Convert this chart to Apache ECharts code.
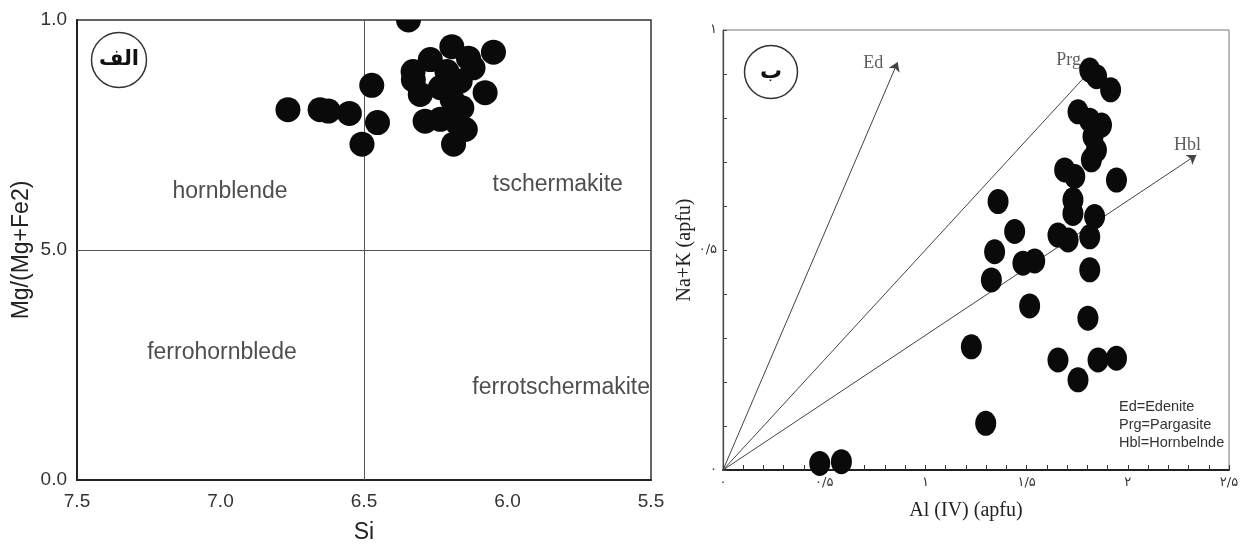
<!DOCTYPE html>
<html>
<head>
<meta charset="utf-8">
<script src="https://cdn.jsdelivr.net/npm/echarts@6/dist/echarts.min.js"></script>
<style>
  html, body { margin: 0; padding: 0; background: #fff; }
  #chart { width: 1245px; height: 549px; }
</style>
</head>
<body>
<div id="chart"></div>
<script>
// ---- Panel الف : Si against Mg/(Mg+Fe2) ----
const leftSi = [6.765, 6.653, 6.624, 6.551, 6.473, 6.453, 6.507, 6.345, 6.049, 6.194,
                6.269, 6.328, 6.304, 6.136, 6.165, 6.078, 6.159, 6.287, 6.234, 6.176,
                6.188, 6.120, 6.211, 6.329, 6.234, 6.193, 6.147];
const leftMg = [0.805, 0.805, 0.802, 0.797, 0.858, 0.777, 0.730, 1.000, 0.930, 0.942,
                0.914, 0.870, 0.838, 0.917, 0.867, 0.842, 0.809, 0.780, 0.784, 0.777,
                0.730, 0.896, 0.888, 0.888, 0.853, 0.827, 0.762];
const leftXTicks = [7.5, 7.0, 6.5, 6.0, 5.5];
const leftXTickLabels = ['7.5', '7.0', '6.5', '6.0', '5.5'];
const leftYTicks = [0, 0.5, 1];
const leftYTickLabels = ['0.0', '5.0', '1.0'];
const fieldNames = ['hornblende', 'tschermakite', 'ferrohornblede', 'ferrotschermakite'];
const fieldSi = [6.967, 5.825, 6.995, 5.813];
const fieldMg = [0.626, 0.643, 0.276, 0.200];
const siDivide = 6.5;
const mgDivide = 0.5;

// ---- Panel ب : Al(IV) against Na+K ----
const rightAl = [1.812, 1.846, 1.915, 1.754, 1.812, 1.870, 1.828, 1.845, 1.820, 1.688,
                 1.738, 1.944, 1.359, 1.729, 1.729, 1.836, 1.441, 1.655, 1.705, 1.812,
                 1.342, 1.482, 1.540, 1.812, 1.326, 1.515, 1.803, 1.227, 1.655, 1.754,
                 1.853, 1.944, 1.298, 0.478, 0.585];
const rightNaK = [0.909, 0.894, 0.864, 0.814, 0.795, 0.784, 0.758, 0.727, 0.705, 0.682,
                  0.667, 0.659, 0.610, 0.614, 0.583, 0.576, 0.542, 0.534, 0.523, 0.530,
                  0.496, 0.470, 0.475, 0.455, 0.432, 0.373, 0.345, 0.280, 0.250, 0.205,
                  0.250, 0.254, 0.106, 0.015, 0.019];
const rightXTicks = [0, 0.5, 1, 1.5, 2, 2.5];
const rightXTickLabels = ['۰', '۰/۵', '۱', '۱/۵', '۲', '۲/۵'];
const rightYTicks = [0, 0.5, 1];
const rightYTickLabels = ['۰', '۰/۵', '۱'];
const vectorNames = ['Ed', 'Prg', 'Hbl'];
const vectorAl = [0.863, 1.840, 2.339];
const vectorNaK = [0.927, 0.920, 0.716];
const legendLines = ['Ed=Edenite', 'Prg=Pargasite', 'Hbl=Hornbelnde'];

// label lookup for axes that only name some of their ticks
function tickLabel(ticks, labels) {
  return function (v) {
    const i = ticks.findIndex(t => Math.abs(t - v) < 1e-6);
    return i < 0 ? '' : labels[i];
  };
}

const SANS = '"Liberation Sans", Arial, sans-serif';
const SERIF = '"Liberation Serif", "Times New Roman", serif';
const PERSIAN = '"DejaVu Sans", "Noto Sans", sans-serif';

// where each vector name sits next to its arrow head
const vectorLabelStyle = [
  { position: 'left', distance: 14, offset: [0, 1] },
  { position: 'left', distance: 14, offset: [0, -5] },
  { position: 'top', distance: 0, offset: [-9, 0] }
];

// filled dot clipped to the plot frame
function renderDot(params, api) {
  const p = api.coord([api.value(0), api.value(1)]);
  return {
    type: 'circle',
    shape: { cx: p[0], cy: p[1], r: 12.5 },
    style: { fill: '#0a0a0a' }
  };
}

const chart = echarts.init(document.getElementById('chart'), null, { renderer: 'canvas' });

chart.setOption({
  animation: false,
  backgroundColor: '#fff',
  grid: [
    { left: 77, top: 20, width: 574, height: 463, show: true, borderColor: '#333', borderWidth: 1.5 },
    { left: 723, top: 30, width: 506, height: 440, show: true, borderColor: '#777', borderWidth: 1 }
  ],
  xAxis: [
    {
      type: 'value', gridIndex: 0, min: 5.5, max: 7.5, interval: 0.5, inverse: true,
      axisLine: { show: true, onZero: false, lineStyle: { color: '#222', width: 2 } },
      axisTick: { show: false },
      splitLine: { show: false },
      axisLabel: { fontFamily: SANS, fontSize: 19, color: '#333', margin: 12,
                   formatter: tickLabel(leftXTicks, leftXTickLabels) },
      name: 'Si', nameLocation: 'middle', nameGap: 41,
      nameTextStyle: { fontFamily: SANS, fontSize: 23, color: '#222' }
    },
    {
      type: 'value', gridIndex: 1, min: 0, max: 2.5, interval: 0.1,
      axisLine: { show: true, onZero: false, lineStyle: { color: '#222', width: 2 } },
      axisTick: { show: true, inside: true, length: 5, lineStyle: { color: '#333' } },
      splitLine: { show: false },
      axisLabel: { fontFamily: PERSIAN, fontSize: 13, color: '#333', margin: 6,
                   showMinLabel: true, showMaxLabel: true,
                   formatter: tickLabel(rightXTicks, rightXTickLabels) },
      name: 'Al (IV) (apfu)', nameLocation: 'middle', nameGap: 31,
      nameTextStyle: { fontFamily: SERIF, fontSize: 20, color: '#222', padding: [0, 20, 0, 0] }
    }
  ],
  yAxis: [
    {
      type: 'value', gridIndex: 0, min: 0, max: 1, interval: 0.5,
      axisLine: { show: true, onZero: false, lineStyle: { color: '#222', width: 2 } },
      axisTick: { show: false },
      splitLine: { show: false },
      axisLabel: { fontFamily: SANS, fontSize: 19, color: '#333', margin: 10,
                   formatter: tickLabel(leftYTicks, leftYTickLabels) },
      name: 'Mg/(Mg+Fe2)', nameLocation: 'middle', nameGap: 44, nameRotate: 90,
      nameTextStyle: { fontFamily: SANS, fontSize: 23, color: '#222' }
    },
    {
      type: 'value', gridIndex: 1, min: 0, max: 1, interval: 0.1,
      axisLine: { show: true, onZero: false, lineStyle: { color: '#444', width: 1.2 } },
      axisTick: { show: true, inside: true, length: 4, lineStyle: { color: '#444' } },
      splitLine: { show: false },
      axisLabel: { fontFamily: PERSIAN, fontSize: 13, color: '#333', margin: 6,
                   showMinLabel: true, showMaxLabel: true,
                   formatter: tickLabel(rightYTicks, rightYTickLabels) },
      name: 'Na+K (apfu)', nameLocation: 'middle', nameGap: 22, nameRotate: 90,
      nameTextStyle: { fontFamily: SERIF, fontSize: 20, color: '#222' }
    }
  ],
  series: [
    {
      // field boundaries of the Si / Mg# diagram
      type: 'scatter', xAxisIndex: 0, yAxisIndex: 0,
      symbolSize: 1, itemStyle: { color: 'rgba(0,0,0,0)' }, silent: true,
      data: fieldNames.map((n, i) => ({ name: n, value: [fieldSi[i], fieldMg[i]] })),
      label: { show: true, position: 'inside', formatter: '{b}',
               fontFamily: SANS, fontSize: 23, color: '#222' },
      z: 1,
      markLine: {
        silent: true, symbol: 'none', z: 1,
        label: { show: false },
        lineStyle: { color: '#555', width: 1, type: 'solid' },
        data: [{ xAxis: siDivide }, { yAxis: mgDivide }]
      }
    },
    {
      // analyses in the Si / Mg# field diagram
      type: 'custom', xAxisIndex: 0, yAxisIndex: 0,
      clip: true, z: 3,
      renderItem: renderDot,
      encode: { x: 0, y: 1 },
      data: leftSi.map((s, i) => [s, leftMg[i]])
    },
    {
      // analyses in the Al(IV) / Na+K diagram
      type: 'scatter', xAxisIndex: 1, yAxisIndex: 1,
      symbolSize: [21, 25], itemStyle: { color: '#0a0a0a', opacity: 1 },
      data: rightAl.map((a, i) => [a, rightNaK[i]]),
      z: 3
    },
    {
      // substitution vectors from the origin
      type: 'scatter', xAxisIndex: 1, yAxisIndex: 1,
      symbolSize: 1, itemStyle: { color: 'rgba(0,0,0,0)' }, silent: true, z: 1,
      data: vectorNames.map((n, i) => ({
        name: n, value: [vectorAl[i], vectorNaK[i]],
        label: vectorLabelStyle[i]
      })),
      label: { show: true, formatter: '{b}', fontFamily: SERIF, fontSize: 18, color: '#333' },
      markLine: {
        silent: true, z: 1,
        symbol: ['none', 'arrow'], symbolSize: 9,
        label: { show: false },
        lineStyle: { color: '#444', width: 1, type: 'solid' },
        data: vectorNames.map((n, i) => [
          { coord: [0, 0] },
          { coord: [vectorAl[i], vectorNaK[i]] }
        ])
      }
    }
  ],
  graphic: {
    elements: [
      { type: 'circle', shape: { cx: 119, cy: 60, r: 27.5 }, z: 100,
        style: { fill: '#fff', stroke: '#333', lineWidth: 1.5 } },
      { type: 'text', x: 119, y: 60, z: 101,
        style: { text: 'الف', font: 'bold 21px "DejaVu Sans"', fill: '#111',
                 align: 'center', verticalAlign: 'middle' } },
      { type: 'circle', shape: { cx: 771, cy: 72, r: 26.5 }, z: 100,
        style: { fill: '#fff', stroke: '#333', lineWidth: 1.5 } },
      { type: 'text', x: 771, y: 72, z: 101,
        style: { text: 'ب', font: 'bold 22px "DejaVu Sans"', fill: '#111',
                 align: 'center', verticalAlign: 'middle' } },
      { type: 'text', x: 1119, y: 398, z: 100,
        style: { text: legendLines.join('\n'), font: '14.5px "Liberation Sans"',
                 lineHeight: 18, fill: '#333' } }
    ]
  }
});
</script>
</body>
</html>
